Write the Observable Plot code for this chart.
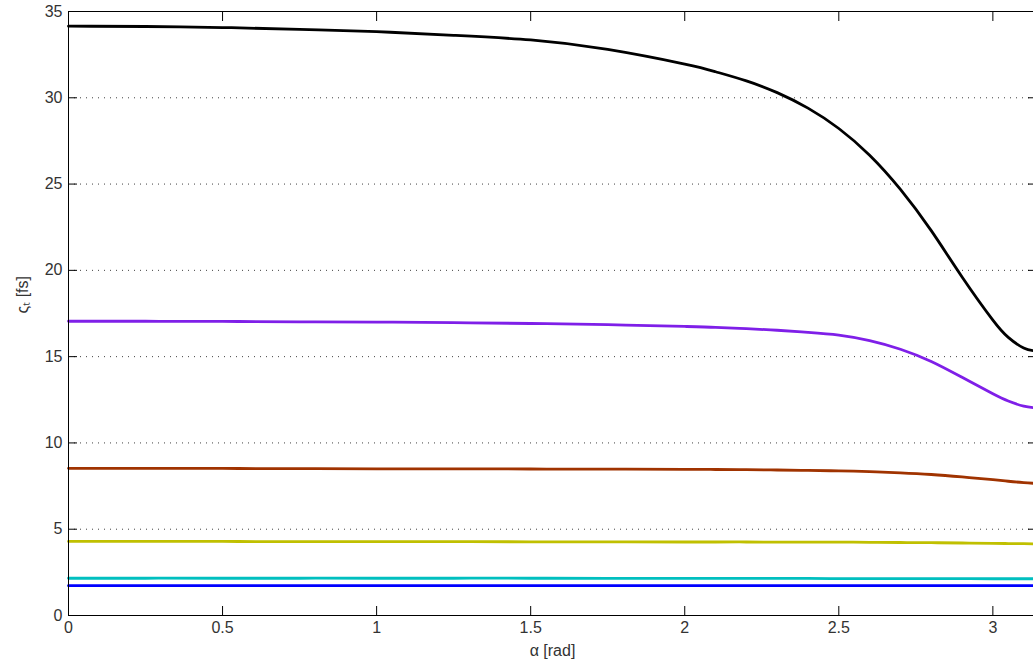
<!DOCTYPE html>
<html>
<head>
<meta charset="utf-8">
<script src="https://cdn.jsdelivr.net/npm/d3@7"></script>
<script src="https://cdn.jsdelivr.net/npm/@observablehq/plot@0.6"></script>
<style>
  html, body { margin: 0; padding: 0; background: #fff; overflow: hidden; }
  svg { font-family: "Liberation Sans", Arial, sans-serif; }
</style>
</head>
<body>
<div id="chart"></div>
<script>
const alpha = [0, 0.25, 0.5, 0.75, 1, 1.25, 1.5, 1.75, 2, 2.1, 2.2, 2.3, 2.4, 2.5, 2.6, 2.7, 2.8, 2.9, 3.0, 3.05, 3.1, 3.1416];
const seriesBlack  = [34.15, 34.13, 34.07, 33.97, 33.83, 33.62, 33.35, 32.8, 31.95, 31.51, 30.98, 30.3, 29.4, 28.22, 26.67, 24.69, 22.3, 19.62, 17.12, 16.12, 15.5, 15.32];
const seriesPurple = [17.05, 17.05, 17.04, 17.02, 17.0, 16.97, 16.92, 16.85, 16.75, 16.7, 16.62, 16.53, 16.41, 16.25, 15.93, 15.43, 14.72, 13.8, 12.85, 12.43, 12.13, 12.03];
const seriesBrown  = [8.53, 8.53, 8.52, 8.51, 8.5, 8.5, 8.49, 8.48, 8.47, 8.46, 8.45, 8.43, 8.41, 8.38, 8.34, 8.27, 8.17, 8.03, 7.87, 7.78, 7.7, 7.65];
const seriesOlive  = [4.29, 4.29, 4.29, 4.28, 4.28, 4.28, 4.27, 4.27, 4.26, 4.26, 4.26, 4.25, 4.25, 4.25, 4.24, 4.23, 4.22, 4.2, 4.18, 4.17, 4.16, 4.15];
const seriesCyan   = [2.16, 2.16, 2.16, 2.16, 2.16, 2.16, 2.16, 2.15, 2.15, 2.15, 2.15, 2.15, 2.15, 2.14, 2.14, 2.14, 2.14, 2.14, 2.13, 2.13, 2.13, 2.13];
const seriesBlue   = [1.73, 1.73, 1.73, 1.73, 1.73, 1.73, 1.73, 1.73, 1.73, 1.73, 1.73, 1.73, 1.73, 1.73, 1.73, 1.73, 1.73, 1.73, 1.73, 1.73, 1.73, 1.73];
const seriesNames  = ["black", "purple", "brown", "olive", "cyan", "blue"];
const seriesColors = ["#000000", "#7f1fe8", "#a03300", "#c0c000", "#00bfbf", "#0000ff"];
const xTicks = [0, 0.5, 1, 1.5, 2, 2.5, 3];
const yTicks = [0, 5, 10, 15, 20, 25, 30, 35];
const gridTicks = [5, 10, 15, 20, 25, 30];
const xLabel = "α [rad]";
const yLabel = "ςₜ [fs]";

const allSeries = [seriesBlack, seriesPurple, seriesBrown, seriesOlive, seriesCyan, seriesBlue];
const rows = [];
allSeries.forEach((vals, i) => {
  vals.forEach((v, j) => rows.push({series: seriesNames[i], a: alpha[j], v}));
});

const lineMarks = seriesNames.slice().reverse().map((name) => {
  const i = seriesNames.indexOf(name);
  return Plot.line(rows.filter(d => d.series === name), {
    x: "a", y: "v", stroke: seriesColors[i], strokeWidth: 2.8, curve: "natural"
  });
});

const chart = Plot.plot({
  width: 1033,
  height: 668,
  marginLeft: 68,
  marginTop: 11,
  marginBottom: 53,
  marginRight: -3,
  style: {fontSize: "16px", color: "#333", background: "#fff"},
  x: {domain: [0, Math.PI]},
  y: {domain: [0, 35]},
  marks: [
    Plot.gridY(gridTicks, {stroke: "#000", strokeOpacity: 0.75, strokeDasharray: "1,5"}),
    ...lineMarks,
    Plot.frame({stroke: "#000", strokeWidth: 1}),
    Plot.axisX(xTicks, {anchor: "bottom", tickSize: -9, tickPadding: 15, label: null, tickFormat: d => String(d), stroke: "#000"}),
    Plot.axisX(xTicks, {anchor: "top", tickSize: -9, label: null, tickFormat: () => "", stroke: "#000"}),
    Plot.axisY(yTicks, {anchor: "left", tickSize: -9, tickPadding: 15, label: null, tickFormat: d => String(d), stroke: "#000"}),
    Plot.axisY(yTicks, {anchor: "right", tickSize: -9, label: null, tickFormat: () => "", stroke: "#000"}),
    Plot.text([xLabel], {frameAnchor: "bottom", dy: 40, text: d => d, fill: "#333", fontSize: 16}),
    Plot.text([yLabel], {frameAnchor: "left", dx: -46, rotate: -90, text: d => d, fill: "#333", fontSize: 16})
  ]
});
document.getElementById("chart").appendChild(chart);
</script>
</body>
</html>
